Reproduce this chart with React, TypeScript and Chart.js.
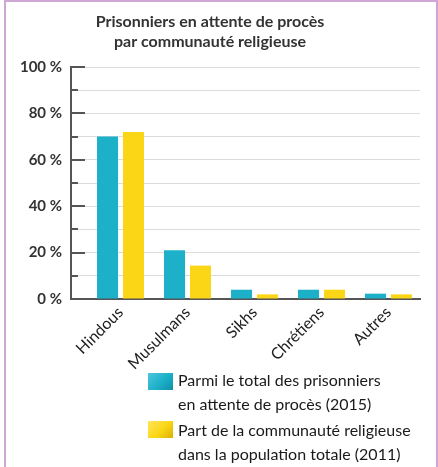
import React, { useEffect, useRef } from "react";
import { Chart, registerables } from "chart.js";

Chart.register(...registerables);

const categories = ["Hindous", "Musulmans", "Sikhs", "Chrétiens", "Autres"];
const prisonersShare = [70, 21, 4, 4, 2.3];
const populationShare = [72, 14.4, 2, 4, 2];
const yTickLabels = ["0 %", "20 %", "40 %", "60 %", "80 %", "100 %"];
const seriesLabels = [
  ["Parmi le total des prisonniers", "en attente de procès (2015)"],
  ["Part de la communauté religieuse", "dans la population totale (2011)"],
];
const titleLines = ["Prisonniers en attente de procès", "par communauté religieuse"];

const TEAL = "#1cb0c9";
const YELLOW = "#fbd616";
const FONT = "Lato, 'Noto Sans', sans-serif";

const innerTicks = {
  id: "innerTicks",
  afterDraw(chart: any) {
    const y = chart.scales.y;
    const ctx = chart.ctx;
    const left = chart.chartArea.left;
    ctx.save();
    ctx.strokeStyle = "#555";
    ctx.lineWidth = 2;
    for (let v = 0; v <= 100; v += 10) {
      const py = Math.round(y.getPixelForValue(v));
      const len = v % 20 === 0 ? 14 : 7;
      ctx.beginPath();
      ctx.moveTo(left, py);
      ctx.lineTo(left + len, py);
      ctx.stroke();
    }
    ctx.restore();
  },
};

export default function App() {
  const ref = useRef<HTMLCanvasElement>(null);
  useEffect(() => {
    const chart = new Chart(ref.current!, {
      type: "bar",
      data: {
        datasets: [
          {
            label: seriesLabels[0].join(" "),
            data: prisonersShare.map((v, i) => ({ x: i, y: v })),
            backgroundColor: TEAL,
            categoryPercentage: 0.775,
            barPercentage: 0.81,
          },
          {
            label: seriesLabels[1].join(" "),
            data: populationShare.map((v, i) => ({ x: i, y: v })),
            backgroundColor: YELLOW,
            categoryPercentage: 0.775,
            barPercentage: 0.81,
          },
        ],
      },
      options: {
        animation: false,
        responsive: false,
        maintainAspectRatio: false,
        layout: { padding: { left: 0, right: 18, top: 0, bottom: 0 } },
        plugins: {
          legend: { display: false },
          tooltip: { enabled: false },
          title: {
            display: true,
            text: titleLines,
            color: "#333",
            font: { family: FONT, size: 16, weight: "bold", lineHeight: 1.25 },
            padding: { top: 12, bottom: 15 },
          },
        },
        scales: {
          x: {
            type: "linear",
            offset: false,
            min: -0.739,
            max: 4.47,
            grid: { display: false, drawTicks: false, offset: false },
            border: { display: true, color: "#555", width: 2 },
            afterBuildTicks: (scale: any) => {
              scale.ticks = categories.map((_, i) => ({ value: i }));
            },
            afterFit: (scale: any) => {
              scale.height = 168;
            },
            ticks: {
              autoSkip: false,
              maxRotation: 45,
              minRotation: 45,
              padding: 4,
              color: "#222",
              font: { family: FONT, size: 16 },
              callback: (v: any) => categories[v as number] ?? "",
            },
          },
          y: {
            min: 0,
            max: 100,
            grid: { color: "#dcdcdc", lineWidth: 1, drawTicks: false },
            border: { display: true, color: "#555", width: 2 },
            afterFit: (scale: any) => {
              scale.width = 71;
            },
            ticks: {
              stepSize: 10,
              padding: 9,
              color: "#333",
              font: { family: FONT, size: 15, weight: "bold" },
              callback: (v: any) => (Number(v) % 20 === 0 ? yTickLabels[Number(v) / 20] : ""),
            },
          },
        },
      },
      plugins: [innerTicks],
    } as any);
    return () => chart.destroy();
  }, []);

  const legendText: React.CSSProperties = {
    position: "absolute",
    left: 178,
    fontFamily: FONT,
    fontSize: 16,
    lineHeight: "24px",
    color: "#1a1a1a",
    whiteSpace: "nowrap",
  };

  return (
    <div style={{ position: "fixed", left: 0, top: 0, width: 438, height: 467, background: "#fff", overflow: "hidden" }}>
      <div
        style={{
          position: "absolute",
          left: 4,
          top: 0,
          width: 430,
          height: 480,
          borderLeft: "2px solid #cfa6d6",
          borderRight: "2px solid #cfa6d6",
          borderTop: "2px solid #cfa6d6",
        }}
      />
      <canvas ref={ref} width={438} height={467} style={{ position: "absolute", left: 0, top: 0 }} />
      <div style={{ position: "absolute", left: 148, top: 373, width: 25, height: 17, background: `linear-gradient(135deg, #4cc6dc, ${TEAL} 55%, #0f8fa6)` }} />
      <div style={{ ...legendText, top: 368 }}>
        {seriesLabels[0][0]}
        <br />
        {seriesLabels[0][1]}
      </div>
      <div style={{ position: "absolute", left: 148, top: 421, width: 25, height: 17, background: `linear-gradient(135deg, #ffe55a, ${YELLOW} 55%, #d9b000)` }} />
      <div style={{ ...legendText, top: 418 }}>
        {seriesLabels[1][0]}
        <br />
        {seriesLabels[1][1]}
      </div>
    </div>
  );
}
